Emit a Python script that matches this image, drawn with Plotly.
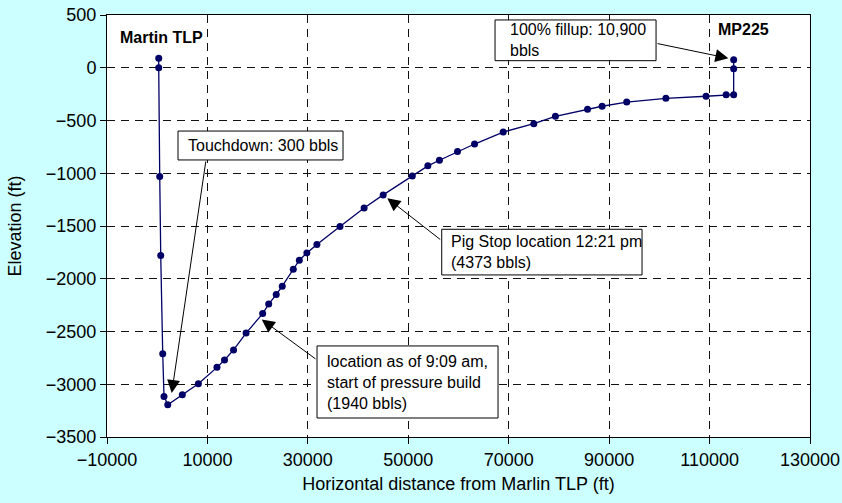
import plotly.graph_objects as go

# ---- data ----
dist_ft = [300, 300, 500, 700, 1100, 1350, 2100, 5000, 8200, 11900, 13400, 15200,
           17700, 21000, 22200, 23700, 24900, 27100, 28300, 29800, 31800, 36400,
           41200, 45000, 50800, 53900, 56200, 59800, 63200, 68900, 75000, 79300,
           85700, 88600, 93500, 101300, 109300, 113300, 114800, 114800, 114800]
elev_ft = [90, 0, -1030, -1780, -2710, -3115, -3195, -3100, -2995, -2840, -2770, -2675,
           -2515, -2330, -2240, -2150, -2070, -1910, -1825, -1755, -1675, -1505,
           -1330, -1205, -1025, -930, -877, -795, -723, -610, -530, -460,
           -394, -365, -325, -290, -270, -255, -255, -10, 75]

x_tick_vals = [-10000, 10000, 30000, 50000, 70000, 90000, 110000, 130000]
x_tick_text = ["\u221210000", "10000", "30000", "50000", "70000", "90000", "110000", "130000"]
y_tick_vals = [500, 0, -500, -1000, -1500, -2000, -2500, -3000, -3500]
y_tick_text = ["500", "0", "\u2212500", "\u22121000", "\u22121500", "\u22122000",
               "\u22122500", "\u22123000", "\u22123500"]

labels = ["Martin TLP", "MP225"]
notes = ["Touchdown: 300 bbls",
         "100% fillup: 10,900<br>bbls",
         "Pig Stop location 12:21 pm<br>(4373 bbls)",
         "location as of 9:09 am,<br>start of pressure build<br>(1940 bbls)"]

# ---- layout helpers (positions / styles) ----
FONT = "Liberation Sans, Arial, sans-serif"
LINE = "#000066"

fig = go.Figure()
fig.add_trace(go.Scatter(
    x=dist_ft, y=elev_ft, mode="lines+markers",
    line=dict(color=LINE, width=1.3),
    marker=dict(color=LINE, size=7),
    showlegend=False, hoverinfo="skip"))

# note boxes: (x0, x1, y0, y1, text_x, text_y)
boxes = [
    (4141, 37003, -874, -600, 5734, -737),
    (67276, 99341, 67, 453, 69865, 260),
    (56660, 96552, -1964, -1531, 58114, -1748),
    (31824, 67873, -3320, -2637, 33418, -2979),
]
# arrows: (tip_x, tip_y, tail_x, tail_y)
arrows = [
    (2886, -3083, 9717, -874),
    (113740, 90, 99341, 232),
    (45825, -1237, 56660, -1639),
    (20811, -2386, 31824, -2770),
]

for (x0, x1, y0, y1, tx, ty), txt in zip(boxes, notes):
    fig.add_shape(type="rect", xref="x", yref="y", x0=x0, x1=x1, y0=y0, y1=y1,
                  line=dict(color="black", width=1), fillcolor="white", layer="above")
    fig.add_annotation(x=tx, y=ty, xref="x", yref="y", text=txt, showarrow=False,
                       xanchor="left", yanchor="middle", align="left",
                       font=dict(family=FONT, size=16, color="black"))

for (hx, hy, tx, ty) in arrows:
    fig.add_annotation(x=hx, y=hy, ax=tx, ay=ty, xref="x", yref="y", axref="x", ayref="y",
                       text="", showarrow=True, arrowhead=2, arrowsize=2.6,
                       arrowwidth=1, arrowcolor="black", standoff=0, startstandoff=0)

fig.add_annotation(x=-7800, y=290, xref="x", yref="y", text="<b>%s</b>" % labels[0],
                   showarrow=False, xanchor="left", yanchor="middle",
                   font=dict(family=FONT, size=16, color="black"))
fig.add_annotation(x=111300, y=358, xref="x", yref="y", text="<b>%s</b>" % labels[1],
                   showarrow=False, xanchor="left", yanchor="middle",
                   font=dict(family=FONT, size=16, color="black"))

axis_common = dict(
    showline=True, linecolor="black", linewidth=1, mirror=True,
    ticks="outside", ticklen=6, tickcolor="black", tickwidth=1,
    showgrid=True, gridcolor="#111111", gridwidth=1.2, griddash="8px,6px",
    zeroline=False, tickfont=dict(family=FONT, size=18, color="black"),
)

fig.update_xaxes(range=[-10000, 130000], tickvals=x_tick_vals, ticktext=x_tick_text,
                 title=dict(text="Horizontal distance from Marlin TLP (ft)",
                            font=dict(family=FONT, size=18, color="black"), standoff=8),
                 **axis_common)
fig.update_yaxes(range=[-3500, 500], tickvals=y_tick_vals, ticktext=y_tick_text,
                 title=dict(text="Elevation (ft)",
                            font=dict(family=FONT, size=18, color="black"), standoff=19),
                 **axis_common)

fig.update_layout(
    width=842, height=503,
    margin=dict(l=107, r=32, t=15, b=66, autoexpand=False),
    paper_bgcolor="#CCFFFF", plot_bgcolor="white",
    font=dict(family=FONT),
)

fig.write_html("out.html", config={"displayModeBar": False},
               post_script="document.body.style.margin='0';document.body.style.background='#CCFFFF';")
